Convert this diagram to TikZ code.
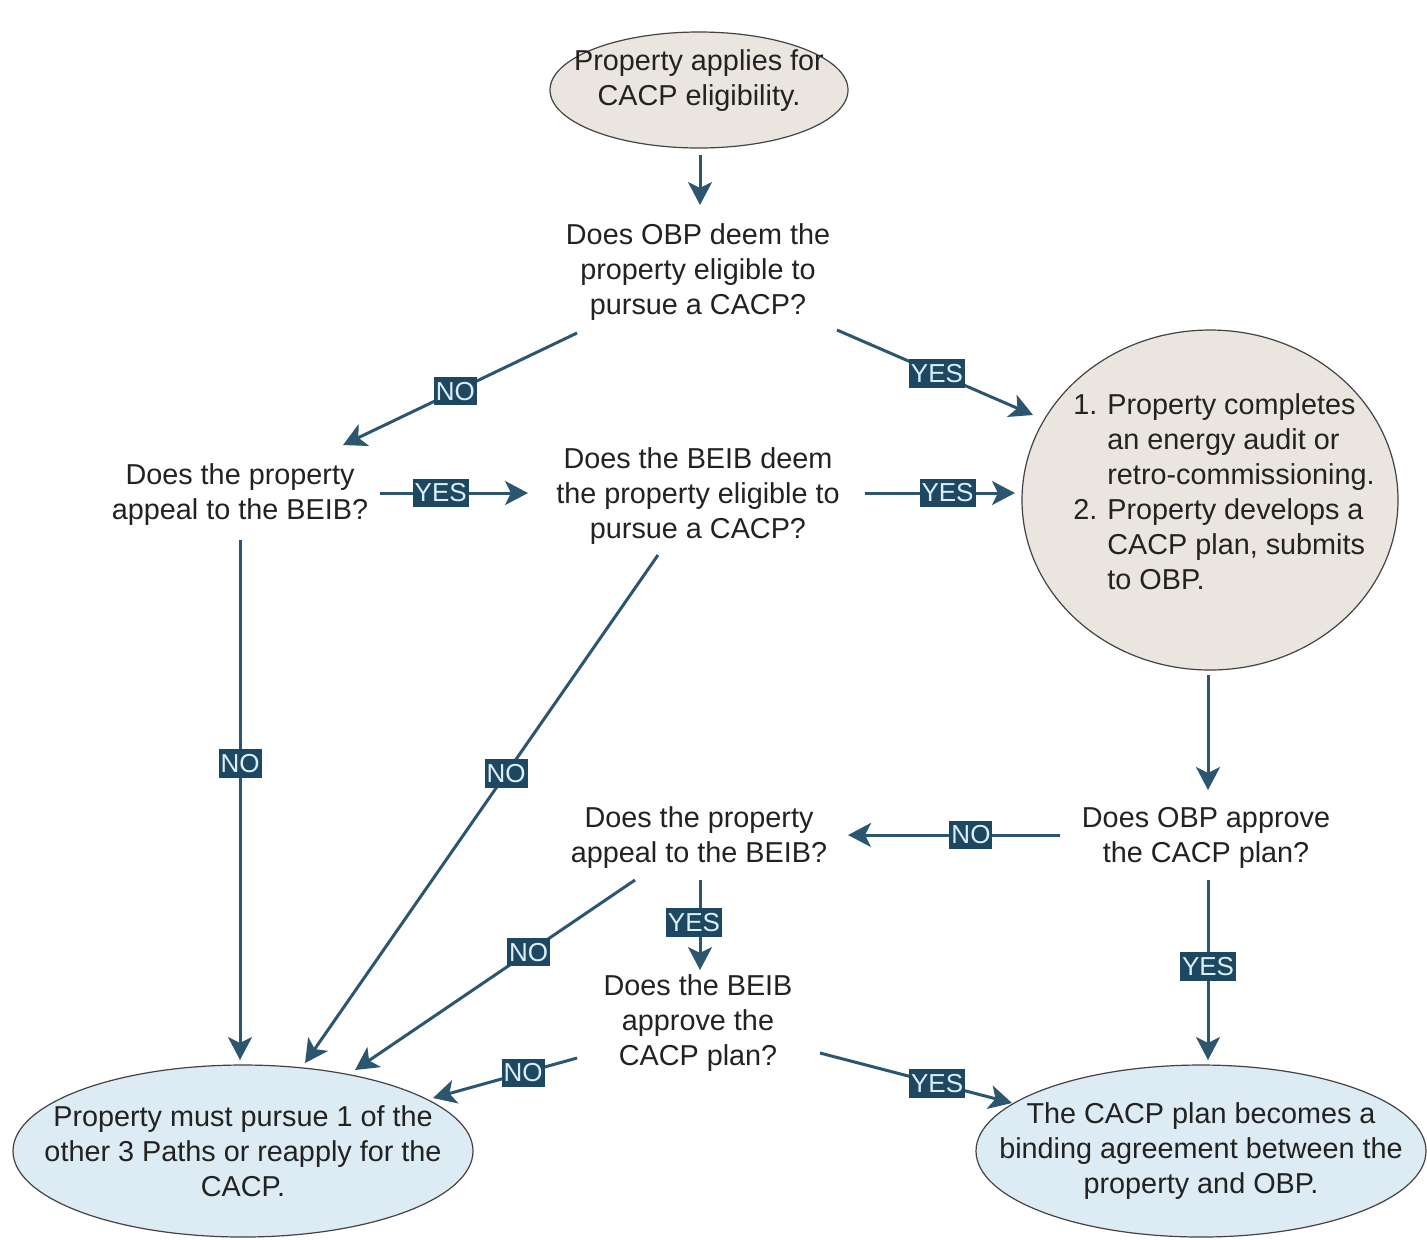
\documentclass[tikz,border=0pt]{standalone}
\usepackage{fontspec}
\setmainfont{Liberation Sans}
\usetikzlibrary{shapes.geometric,arrows.meta,calc}
\definecolor{ink}{HTML}{222222}
\definecolor{flow}{HTML}{2C5670}
\definecolor{tagbg}{HTML}{1E4862}
\definecolor{tagfg}{HTML}{DCEFF8}
\definecolor{sand}{HTML}{EAE5DE}
\definecolor{sky}{HTML}{DDEBF5}
\begin{document}
\begin{tikzpicture}[x=0.5pt,y=-0.5pt,
  txt/.style={font=\fontsize{14.4}{17.5}\selectfont, text=ink, align=center, inner sep=0pt},
  bubble/.style={txt, shape=ellipse, draw=ink!85, line width=0.6pt},
  flowline/.style={draw=flow, line width=1.5pt, -{Stealth[length=11.5pt,width=12pt,inset=3pt]}},
  tag/.style={fill=tagbg, text=tagfg, font=\fontsize{13}{13}\selectfont, inner xsep=1pt, inner ysep=2.5pt}
]
\useasboundingbox (0,0) rectangle (1427,1239);
\fill[white] (0,0) rectangle (1427,1239);

% start and end bubbles (size fixed by the minimum dimensions)
\node[bubble, fill=sand, minimum width=149pt, minimum height=58pt,
      inner xsep=-40pt, inner ysep=-12pt] (start) at (699,90)
  {Property applies for\\CACP eligibility.\rule[-12pt]{0pt}{0pt}};
\node[bubble, fill=sand, minimum width=188pt, minimum height=170pt,
      inner xsep=-50pt, inner ysep=-30pt] (circ) at (1210,500)
  {\hspace*{14pt}\begin{tabular}{@{}r@{\hspace{5pt}}l@{}}
   1. & Property completes\\
      & an energy audit or\\
      & retro-commissioning.\\
   2. & Property develops a\\
      & CACP plan, submits\\
      & to OBP.\rule[-10pt]{0pt}{0pt}
   \end{tabular}};
\node[bubble, fill=sky, minimum width=230pt, minimum height=86pt,
      inner xsep=-70pt, inner ysep=-20pt] (endL) at (243,1151)
  {Property must pursue 1 of the\\other 3 Paths or reapply for the\\CACP.};
\node[bubble, fill=sky, minimum width=225pt, minimum height=86pt,
      inner xsep=-70pt, inner ysep=-20pt] (endR) at (1201,1151)
  {The CACP plan becomes a\\binding agreement between the\\property and OBP.};

% decision questions
\node[txt] (q1) at (698,272) {Does OBP deem the\\property eligible to\\pursue a CACP?};
\node[txt] (q2) at (240,495) {Does the property\\appeal to the BEIB?};
\node[txt] (q3) at (698,496) {Does the BEIB deem\\the property eligible to\\pursue a CACP?};
\node[txt] (q4) at (1206,838) {Does OBP approve\\the CACP plan?};
\node[txt] (q5) at (699,838) {Does the property\\appeal to the BEIB?};
\node[txt] (q6) at (698,1023) {Does the BEIB\\approve the\\CACP plan?};

% connectors
\draw[flowline] ($(start)+(1,65)$) -- ($(q1)+(2,-67)$);
\draw[flowline] ($(q1)+(-121,61)$) -- node[tag, pos=0.52] {NO} ($(q2)+(103,-50)$);
\draw[flowline] ($(q1)+(139,58)$) -- node[tag, pos=0.51] {YES} ($(circ)+(-177,-85)$);
\draw[flowline] ($(q2)+(140,-2)$) -- node[tag, pos=0.41] {YES} ($(q3)+(-170,-3)$);
\draw[flowline] ($(q3)+(167,-3)$) -- node[tag, pos=0.55] {YES} ($(circ)+(-195,-7)$);
\draw[flowline] ($(q2)+(0,45)$) -- node[tag, pos=0.43] {NO} ($(endL)+(-3,-91)$);
\draw[flowline] ($(q3)+(-40,59)$) -- node[tag, pos=0.43] {NO} ($(endL)+(62,-88)$);
\draw[flowline] ($(circ)+(-2,175)$) -- ($(q4)+(2,-48)$);
\draw[flowline] ($(q4)+(-146,-3)$) -- node[tag, pos=0.42] {NO} ($(q5)+(149,-3)$);
\draw[flowline] ($(q4)+(2,42)$) -- node[tag, pos=0.48] {YES} ($(endR)+(7,-91)$);
\draw[flowline] ($(q5)+(1,42)$) -- node[tag, pos=0.47, xshift=-3pt] {YES} ($(q6)+(2,-53)$);
\draw[flowline] ($(q5)+(-64,42)$) -- node[tag, pos=0.38] {NO} ($(endL)+(112,-81)$);
\draw[flowline] ($(q6)+(-121,35)$) -- node[tag, pos=0.375] {NO} ($(endL)+(190,-53)$);
\draw[flowline] ($(q6)+(122,30)$) -- node[tag, pos=0.61] {YES} ($(endR)+(-189,-48)$);
\end{tikzpicture}
\end{document}
